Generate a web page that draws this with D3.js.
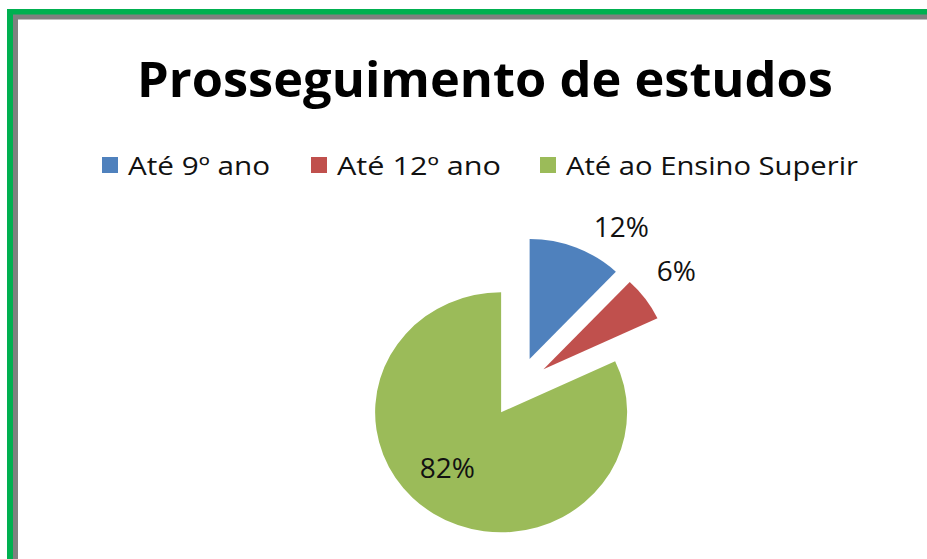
<!DOCTYPE html>
<html>
<head>
<meta charset="utf-8">
<script src="https://cdn.jsdelivr.net/npm/d3@7"></script>
<style>
  body { margin: 0; background: #fff; }
  text { font-family: "Open Sans", sans-serif; }
</style>
</head>
<body>
<div id="vis"></div>
<script>
const FRAME_WIDTH = 927;
const FRAME_HEIGHT = 559;

// data
const categories = ["Até 9º ano", "Até 12º ano", "Até ao Ensino Superir"];
const values = [12, 6, 82];
const colors = ["#4F81BD", "#C0504D", "#9BBB59"];
const labelTexts = ["12%", "6%", "82%"];

// pie geometry
const CX = 518, CY = 387;
const RADIUS = 120;
const STRETCH_X = 1.05;
const EXPLODE = 30;
// label radius and small angle nudges (deg) the way excel moved them
const labelRadius = [188, 190, 105];
const labelNudge = [10, -1.5, 7.5];

const svg = d3.select("#vis")
  .append("svg")
    .attr("width", FRAME_WIDTH)
    .attr("height", FRAME_HEIGHT);

// frame border (green + gray inner line)
svg.append("path")
  .attr("d", "M10,570 L10,12 L940,12")
  .attr("fill", "none")
  .attr("stroke", "#00B050")
  .attr("stroke-width", 6);
svg.append("path")
  .attr("d", "M15.5,570 L15.5,17 L940,17")
  .attr("fill", "none")
  .attr("stroke", "#808080")
  .attr("stroke-width", 5);

// title
svg.append("text")
  .attr("x", 137)
  .attr("y", 97)
  .attr("font-size", 49)
  .attr("font-weight", "bold")
  .attr("fill", "#000")
  .attr("textLength", 696)
  .attr("lengthAdjust", "spacingAndGlyphs")
  .text("Prosseguimento de estudos");

// legend
const legendX = [102, 311, 540];
const legendW = [142, 164, 292];
const legend = svg.selectAll(".legend")
  .data(categories)
  .enter()
  .append("g")
    .attr("class", "legend")
    .attr("transform", (d, i) => "translate(" + legendX[i] + ",157)");

legend.append("rect")
  .attr("width", 16)
  .attr("height", 16)
  .attr("fill", (d, i) => colors[i]);

legend.append("text")
  .attr("x", 26)
  .attr("y", 18)
  .attr("font-size", 25)
  .attr("fill", "#111")
  .attr("textLength", (d, i) => legendW[i])
  .attr("lengthAdjust", "spacingAndGlyphs")
  .text(d => d);

// pie
const pie = d3.pie().sort(null).value(d => d);
const arcs = pie(values);
const arc = d3.arc().innerRadius(0).outerRadius(RADIUS);

const pieG = svg.append("g")
  .attr("transform", "translate(" + CX + "," + CY + ") scale(" + STRETCH_X + ",1)");

pieG.selectAll(".slice")
  .data(arcs)
  .enter()
  .append("path")
    .attr("class", "slice")
    .attr("d", arc)
    .attr("fill", (d, i) => colors[i])
    .attr("transform", d => {
      const mid = (d.startAngle + d.endAngle) / 2;
      return "translate(" + (Math.sin(mid) * EXPLODE) + "," + (-Math.cos(mid) * EXPLODE) + ")";
    });

// data labels
svg.selectAll(".label")
  .data(arcs)
  .enter()
  .append("text")
    .attr("class", "label")
    .attr("x", (d, i) => {
      const a = (d.startAngle + d.endAngle) / 2 + labelNudge[i] * Math.PI / 180;
      return CX + STRETCH_X * labelRadius[i] * Math.sin(a);
    })
    .attr("y", (d, i) => {
      const a = (d.startAngle + d.endAngle) / 2 + labelNudge[i] * Math.PI / 180;
      return CY - labelRadius[i] * Math.cos(a);
    })
    .attr("dy", "0.36em")
    .attr("text-anchor", "middle")
    .attr("font-size", 28)
    .attr("fill", "#111")
    .text((d, i) => labelTexts[i]);
</script>
</body>
</html>
